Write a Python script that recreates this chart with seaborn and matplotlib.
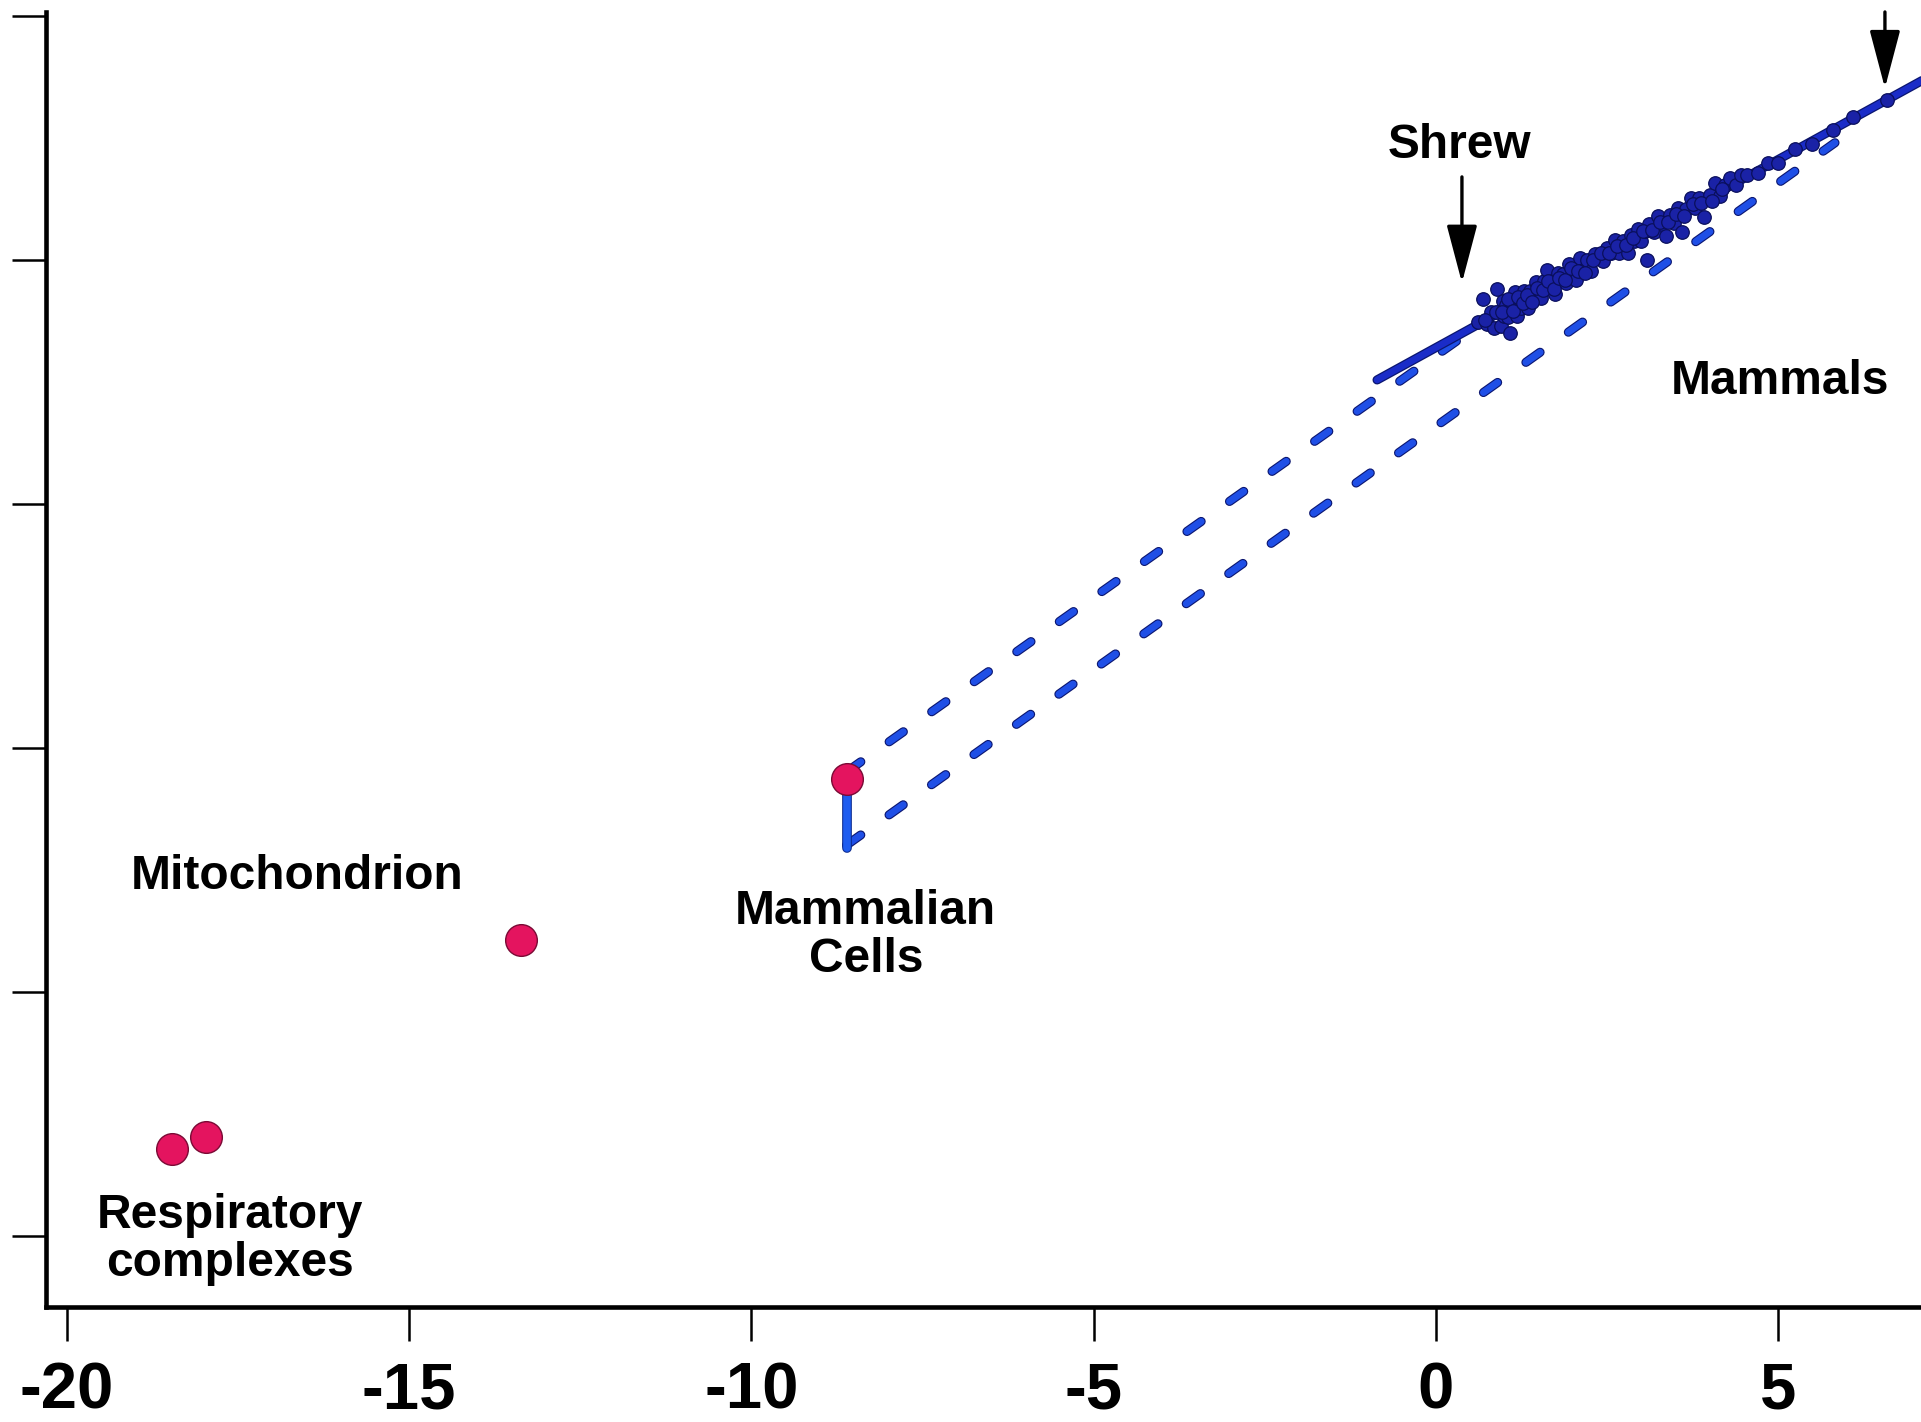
import numpy as np
import pandas as pd
import seaborn as sns
import matplotlib.pyplot as plt
import matplotlib.patheffects as pe

# log10 mass (x) vs log10 metabolic power (y)
small_labels = ["Respiratory complexes", "Respiratory complexes", "Mitochondrion", "Mammalian cells"]
small_x = [-18.46, -17.97, -13.36, -8.61]
small_y = [-18.22, -17.97, -13.93, -10.64]

mammal_x = [0.62, 0.69, 0.75, 0.80, 0.85, 0.89, 0.92, 0.95, 0.98, 1.00,
            1.03, 1.06, 1.08, 1.10, 1.13, 1.16, 1.19, 1.22, 1.25, 1.28,
            1.31, 1.35, 1.38, 1.42, 1.46, 1.50, 1.54, 1.58, 1.62, 1.66,
            1.70, 1.74, 1.78, 1.82, 1.86, 1.90, 1.95, 2.00, 2.05, 2.10,
            2.15, 2.20, 2.26, 2.32, 2.38, 2.44, 2.50, 2.56, 2.62, 2.68,
            2.74, 2.80, 2.85, 2.90, 2.95, 3.00, 3.05, 3.08, 3.12, 3.18,
            3.24, 3.30, 3.36, 3.42, 3.48, 3.54, 3.60, 3.66, 3.72, 3.78,
            3.85, 3.92, 4.00, 4.08, 4.15, 4.22, 4.30, 4.38, 4.45, 4.55,
            4.70, 4.85, 5.00, 5.25, 5.50, 5.80, 6.10, 6.59,
            0.72, 0.88, 0.97, 1.05, 1.12, 1.20, 1.27, 1.33, 1.40, 1.48,
            1.56, 1.64, 1.72, 1.80, 1.88, 1.98, 2.08, 2.18, 2.29, 2.41,
            2.53, 2.65, 2.77, 2.88, 3.02, 3.15, 3.27, 3.39, 3.51, 3.63,
            3.75, 3.88, 4.04, 4.18]
mammal_y = [-1.27, -0.81, -1.32, -1.06, -1.39, -0.59, -1.07, -1.36, -0.84, -1.15,
            -0.92, -1.18, -1.50, -0.80, -0.97, -0.65, -1.16, -0.81, -0.98, -0.63,
            -0.81, -0.98, -0.63, -0.80, -0.45, -0.64, -0.79, -0.44, -0.21, -0.60,
            -0.43, -0.70, -0.26, -0.43, -0.28, -0.47, -0.09, -0.24, -0.42, 0.04,
            -0.20, 0.00, -0.22, 0.13, 0.04, -0.02, 0.25, 0.14, 0.40, 0.15,
            0.38, 0.14, 0.50, 0.38, 0.64, 0.38, 0.59, 0.00, 0.73, 0.57,
            0.90, 0.73, 0.49, 0.92, 0.76, 1.07, 0.58, 1.04, 1.27, 1.06,
            1.27, 0.87, 1.33, 1.57, 1.30, 1.53, 1.67, 1.53, 1.73, 1.73,
            1.78, 1.99, 1.98, 2.27, 2.38, 2.67, 2.93, 3.28,
            -1.24, -1.06, -1.07, -0.81, -1.05, -0.77, -0.88, -0.73, -0.86, -0.58,
            -0.61, -0.43, -0.59, -0.37, -0.41, -0.17, -0.23, -0.26, -0.01, 0.14,
            0.15, 0.29, 0.30, 0.44, 0.59, 0.61, 0.78, 0.78, 0.93, 0.90,
            1.15, 1.17, 1.20, 1.46]

fit_x = [-0.86, 7.2]
fit_y = [-2.46, 3.75]
upper_dash_x = [-8.61, 0.77]
upper_dash_y = [-10.49, -1.20]
lower_dash_x = [-8.61, 5.83]
lower_dash_y = [-11.99, 2.40]
cell_bar_x = [-8.61, -8.61]
cell_bar_y = [-10.64, -12.05]

xticks = [-20, -15, -10, -5, 0, 5]
yticks = [-20, -15, -10, -5, 0, 5]

sns.set_style("ticks")
plt.rcParams['font.family'] = ['Liberation Sans', 'DejaVu Sans']

fig = plt.figure(figsize=(19.21, 14.22), dpi=100)
ax = fig.add_axes([0.0242, 0.0809, 0.9758, 0.9107])

outline = [pe.Stroke(linewidth=6.6, foreground="#0b1670"), pe.Normal()]

# dashed extrapolations from the cell point
for xs, ys in [(upper_dash_x, upper_dash_y), (lower_dash_x, lower_dash_y)]:
    sns.lineplot(x=xs, y=ys, ax=ax, color="#1f4fe6", lw=5.0,
                 linestyle=(0, (2.5, 5.0)), dash_capstyle="round",
                 path_effects=outline, estimator=None, sort=False)

sns.lineplot(x=cell_bar_x, y=cell_bar_y, ax=ax, color="#1e5cf0", lw=5.5,
             solid_capstyle="round", estimator=None, sort=False,
             path_effects=[pe.Stroke(linewidth=7, foreground="#0b2a90"), pe.Normal()])

# 3/4 power fit through mammals
sns.lineplot(x=fit_x, y=fit_y, ax=ax, color="#1a2cc8", lw=4.8,
             solid_capstyle="round", estimator=None, sort=False,
             path_effects=outline)

mammals = pd.DataFrame({"x": mammal_x, "y": mammal_y})
sns.scatterplot(data=mammals, x="x", y="y", ax=ax, s=95, color="#1a22a6",
                edgecolor="#0a0f5c", linewidth=0.9, zorder=4)

small = pd.DataFrame({"x": small_x, "y": small_y, "what": small_labels})
sns.scatterplot(data=small, x="x", y="y", ax=ax, s=520, color="#e4145f",
                edgecolor="#7a0a35", linewidth=1.0, zorder=5, legend=False)

lab = dict(fontsize=34.5, fontweight="bold", ha="center", va="center", color="black")
ax.text(0.34, 2.34, "Shrew", **lab)
ax.text(5.03, -2.50, "Mammals", **lab)
ax.text(-16.64, -12.64, "Mitochondrion", **lab)
ax.text(-8.33, -13.85, "Mammalian\nCells", linespacing=1.08, **lab)
ax.text(-17.62, -20.08, "Respiratory\ncomplexes", linespacing=1.08, **lab)

arrow = dict(arrowstyle="-|>,head_length=3.6,head_width=0.95", color="black",
             lw=2.4, shrinkA=0, shrinkB=0, mutation_scale=10)
ax.annotate("", xy=(0.38, -0.47), xytext=(0.38, 1.70), arrowprops=arrow)
ax.annotate("", xy=(6.56, 3.52), xytext=(6.56, 5.08), arrowprops=arrow,
            annotation_clip=False)

ax.set_xlim(-20.30, 7.087)
ax.set_ylim(-21.455, 5.08)
ax.set_xticks(xticks)
ax.set_xticklabels([str(v) for v in xticks])
ax.set_yticks(yticks)
ax.set_yticklabels([])
ax.set_xlabel("")
ax.set_ylabel("")
sns.despine(ax=ax, top=True, right=True)
for s in ["left", "bottom"]:
    ax.spines[s].set_linewidth(3.3)
    ax.spines[s].set_color("black")
ax.tick_params(axis="both", direction="out", length=24.5, width=1.8, color="black",
               labelcolor="black")
ax.tick_params(axis="x", labelsize=47, pad=15)
for t in ax.get_xticklabels():
    t.set_fontweight("bold")

fig.savefig("out.png", dpi=100, facecolor="white")
